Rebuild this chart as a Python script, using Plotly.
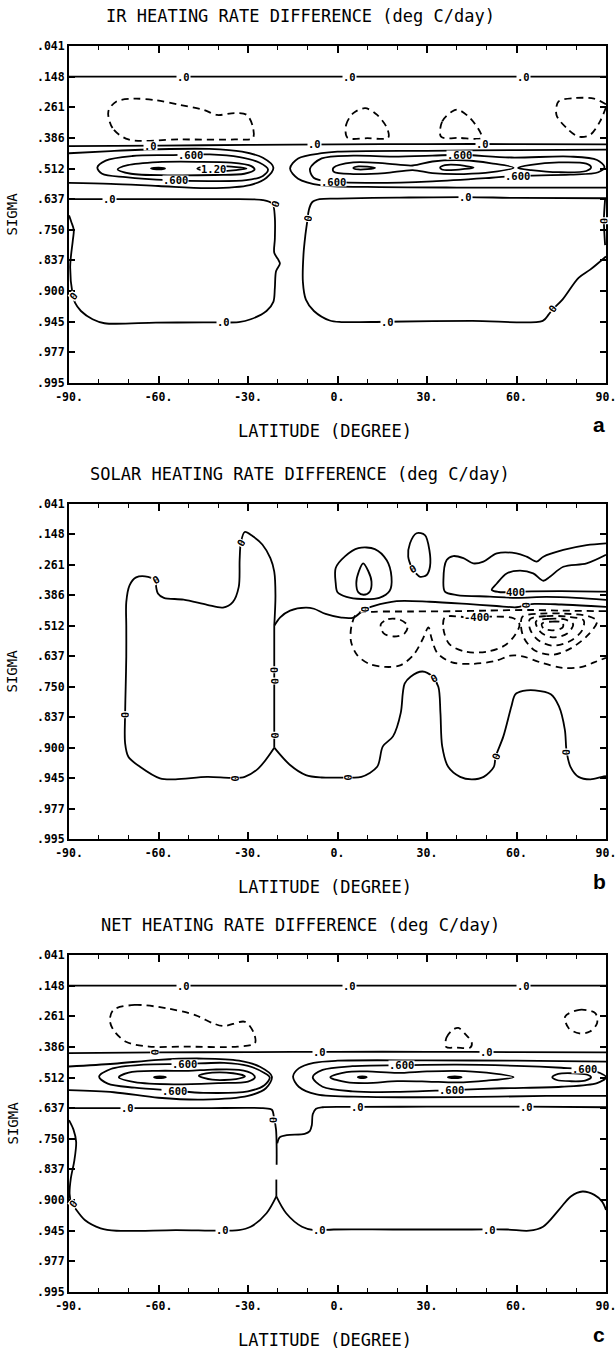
import plotly.graph_objects as go

W, H = 616, 1349
MONO = "DejaVu Sans Mono"

# ---------------- axes / text ----------------
SIGMA_LABELS = [".041", ".148", ".261", ".386", ".512", ".637", ".750",
                ".837", ".900", ".945", ".977", ".995"]
LAT_MAJOR = [-90, -60, -30, 0, 30, 60, 90]
LAT_MAJOR_TEXT = ["-90.", "-60.", "-30.", "0.", "30.", "60.", "90."]
LAT_MINOR = [-80, -70, -50, -40, -20, -10, 10, 20, 40, 50, 70, 80]
TITLES = ["IR HEATING RATE DIFFERENCE (deg C/day)",
          "SOLAR HEATING RATE DIFFERENCE (deg C/day)",
          "NET HEATING RATE DIFFERENCE (deg C/day)"]
LETTERS = ["a", "b", "c"]
X_TITLE = "LATITUDE (DEGREE)"
Y_TITLE = "SIGMA"

# ---------------- panel a : IR  (lat, sigma-level index) ----------------
IR_ZERO_148 = [(-90, 1.0), (0, 1.0), (90, 1.0)]
IR_ZERO_386 = [(-90, 3.27), (-60, 3.25), (-30, 3.23), (0, 3.21), (30, 3.2), (60, 3.2), (90, 3.21)]
IR_P03_L = [(-90, 3.5), (-76, 3.43), (-60, 3.37), (-43, 3.36), (-32, 3.45), (-25, 3.65), (-21.5, 3.97),
            (-23.8, 4.3), (-29.4, 4.54), (-43, 4.64), (-60, 4.57), (-76, 4.5), (-90, 4.47)]
IR_P06_L = [(-80.5, 3.97), (-77.7, 3.74), (-68.8, 3.59), (-56.5, 3.56), (-42.8, 3.54), (-32.8, 3.63),
            (-26.1, 3.81), (-23.3, 4.03), (-25.0, 4.24), (-30.6, 4.38), (-42.8, 4.41), (-56.5, 4.38),
            (-71.0, 4.28), (-78.9, 4.17), (-80.5, 3.97)]
IR_P09_L = [(-73.7, 4.03), (-70.3, 3.89), (-60.2, 3.79), (-46.8, 3.78), (-35.6, 3.81), (-28.9, 3.92),
            (-27.8, 4.03), (-31.2, 4.17), (-41.2, 4.21), (-56.9, 4.22), (-69.2, 4.17), (-73.7, 4.03)]
IR_P12_L1 = [(-62.5, 4.0), (-60, 3.97), (-57.8, 4.0), (-60, 4.03), (-62.5, 4.0)]
IR_P12_L2 = [(-47, 4.0), (-44, 3.93), (-38, 3.92), (-33, 3.96), (-30.5, 4.0), (-34, 4.05), (-40, 4.08),
             (-45, 4.06), (-47, 4.0)]
IR_P03_R = [(90, 3.38), (60, 3.4), (30, 3.42), (0, 3.45), (-5.3, 3.5), (-13.2, 3.67), (-15.9, 4.0),
            (-13.2, 4.33), (-5.3, 4.55), (10, 4.6), (40, 4.62), (70, 4.62), (90, 4.62)]
IR_P06_R = [(-9.2, 4.0), (-5.3, 3.67), (5.3, 3.58), (18.6, 3.61), (31.8, 3.58), (41, 3.55), (58.3, 3.64),
            (78, 3.61), (87, 3.72), (89.5, 3.95), (87.4, 4.12), (78, 4.2), (60, 4.24), (51.6, 4.3),
            (31.8, 4.42), (12, 4.47), (-1.3, 4.43), (-8, 4.3), (-9.2, 4.0)]
IR_P09_R1 = [(-1.3, 3.97), (5.3, 3.8), (15.9, 3.83), (25.2, 3.9), (31.8, 3.77), (42.4, 3.73), (51.6, 3.83),
             (59, 3.97), (51.6, 4.12), (42.4, 4.18), (31.8, 4.15), (25.2, 4.05), (15.9, 4.15), (5.3, 4.18),
             (-1.3, 4.1), (-1.3, 3.97)]
IR_P09_R2 = [(60.5, 3.98), (64.9, 3.88), (74.2, 3.8), (83.4, 3.84), (85, 3.96), (83.4, 4.08), (74.2, 4.12),
             (64.9, 4.05), (60.5, 3.98)]
IR_P12_R1 = [(5.3, 3.98), (7, 3.93), (10, 3.94), (12.6, 3.98), (10, 4.02), (7, 4.03), (5.3, 3.98)]
IR_P12_R2 = [(34.4, 3.97), (36, 3.89), (40, 3.88), (43, 3.92), (45.6, 3.97), (42, 4.02), (38, 4.05),
             (35, 4.03), (34.4, 3.97)]
IR_ZERO_LOW_L = [(-90, 5.0), (-76, 5.0), (-60, 5.0), (-40, 5.0), (-25, 5.03), (-21.8, 5.15), (-21.0, 5.6),
                 (-21.0, 6.3), (-21.2, 6.75), (-20.0, 6.95), (-19.3, 7.1), (-20.6, 7.35), (-21.0, 7.9),
                 (-21.5, 8.35), (-23.8, 8.65), (-29.1, 8.92), (-33.1, 9.01), (-45, 9.02), (-60.9, 9.03),
                 (-78.1, 9.05), (-82.1, 8.92), (-86, 8.65), (-88, 8.38), (-88.8, 8.1), (-89.6, 7.2),
                 (-88.7, 6.33), (-88.4, 6.0), (-89.2, 5.75), (-90, 5.53)]
IR_ZERO_LOW_R = [(90, 4.97), (60, 4.96), (43, 4.93), (20, 4.95), (0, 4.98), (-6, 5.0), (-8.5, 5.1),
                 (-9.6, 5.35), (-10.1, 5.7), (-10.8, 6.2), (-11.4, 6.8), (-11.6, 7.7), (-10.6, 8.28),
                 (-7.9, 8.65), (-2.6, 8.96), (1.3, 9.01), (16.6, 9.0), (45, 8.97), (68.8, 8.97),
                 (70.8, 8.76), (72.1, 8.6), (75.4, 8.28), (80.8, 7.57), (84.7, 7.3), (90, 6.87)]
IR_ZERO_EDGE = [(89.7, 5.0), (89.3, 5.7), (89.7, 6.5)]
IR_N1 = [(-70.1, 3.05), (-75.4, 2.68), (-76.8, 2.13), (-74.1, 1.81), (-68.2, 1.72), (-60.9, 1.77),
         (-52.9, 1.92), (-45.0, 2.08), (-40.4, 2.25), (-34.4, 2.19), (-30.4, 2.25), (-28.4, 2.63),
         (-28.4, 3.01), (-34.4, 3.05), (-52.9, 3.05), (-70.1, 3.05)]
IR_N2 = [(3.3, 2.99), (2.9, 2.57), (5.3, 2.19), (9.3, 2.03), (13.3, 2.25), (16.6, 2.68), (17.0, 2.99),
         (10, 3.01), (3.3, 2.99)]
IR_N3 = [(34.7, 2.96), (35.1, 2.46), (38.4, 2.14), (40.4, 2.08), (44.4, 2.35), (47.7, 2.79), (48.3, 3.0),
         (41, 3.0), (34.7, 2.96)]
IR_N4 = [(90, 2.0), (88, 2.46), (84.7, 2.9), (80.8, 2.96), (76.8, 2.68), (73.4, 2.25), (74.1, 1.81),
         (79.4, 1.70), (86, 1.72), (90, 1.9)]
IR_LABELS = [(-51.6, 1.0, ".0", 0), (4, 1.0, ".0", 0), (62.2, 1.0, ".0", 0),
             (-62.6, 3.25, ".0", 0), (-7.7, 3.21, ".0", 0), (48.6, 3.2, ".0", 0),
             (-49.4, 3.55, ".600", 0), (-54.4, 4.39, ".600", 0), (41, 3.55, ".600", 0),
             (-1.3, 4.43, ".600", 0), (60.3, 4.24, ".600", 0), (-41.6, 4.0, "1.20", 0),
             (-76.3, 5.0, ".0", 0), (43, 4.93, ".0", 0), (-38.2, 9.02, ".0", 0), (16.6, 9.0, ".0", 0),
             (-20.9, 5.15, "0", -70), (-10.0, 5.64, "0", -80), (-88.6, 8.15, "0", -50),
             (72.1, 8.6, "0", -55), (89.3, 5.7, "0", 90)]

# ---------------- panel b : SOLAR ----------------
SOL_ZERO_LA = [(-61, 2.5), (-60.2, 2.94), (-58.2, 3.08), (-51.6, 3.14), (-43.7, 3.31), (-38.4, 3.4),
               (-35.1, 3.22), (-33.1, 2.72), (-32.8, 1.83), (-32.4, 1.28), (-31.1, 0.92), (-28.5, 1.05),
               (-25.2, 1.33), (-22.5, 1.78), (-21.2, 2.22), (-20.8, 3.0), (-21.2, 4.0)]
SOL_ZERO_STEM = [(-21.2, 4.0), (-21.2, 5.0), (-21.2, 6.0), (-21.2, 7.0), (-21.2, 8.0)]
SOL_ZERO_LB = [(-21.2, 8.0), (-26.5, 8.68), (-31.1, 8.96), (-35.7, 8.99), (-43.7, 8.96), (-54.3, 9.04),
               (-59.5, 9.01), (-66.2, 8.63), (-70.1, 8.3), (-71.2, 7.85), (-71.2, 6.92), (-71, 6.0),
               (-70.8, 5.0), (-70.8, 4.0), (-70.8, 3.22), (-69.7, 2.67), (-67.5, 2.41), (-63.5, 2.39),
               (-61, 2.5)]
SOL_ZERO_R = [(-21.2, 8.0), (-15.9, 8.57), (-10.6, 8.9), (-5.3, 8.98), (3.3, 8.98), (8.0, 8.96),
              (13.3, 8.63), (15.2, 7.96), (18.6, 7.63), (21.2, 6.86), (21.9, 6.2), (22.5, 5.9),
              (24.5, 5.67), (28.5, 5.5), (31.8, 5.67), (33.8, 6.0), (34.5, 6.86), (35.1, 7.96),
              (37.1, 8.63), (41.1, 8.96), (45, 9.04), (49, 8.96), (52.4, 8.63), (53, 8.3), (55.6, 7.63),
              (58.3, 6.64), (59.6, 6.25), (62.2, 6.14), (66.2, 6.12), (71.5, 6.25), (74.2, 6.64),
              (76.2, 7.41), (76.8, 8.13), (78.1, 8.63), (80.8, 8.96), (84.8, 9.04), (88.7, 8.96), (90, 8.94)]
SOL_ZERO_MID = [(-21.2, 4.0), (-19.2, 3.72), (-15.9, 3.5), (-10.6, 3.4), (-7.9, 3.44), (-4, 3.61),
                (1.3, 3.73), (5.3, 3.73), (9.2, 3.45), (12, 3.35), (19.8, 3.19), (30.9, 3.21),
                (44.4, 3.29), (53.3, 3.35), (60, 3.39), (63, 3.33), (66, 3.28), (75, 3.3), (85, 3.35),
                (90, 3.38)]
SOL_P_C1 = [(-0.6, 2.6), (-0.6, 2.1), (2.5, 1.72), (7, 1.45), (12.5, 1.48), (16.5, 1.85), (18.1, 2.4),
            (17.5, 2.85), (14, 3.08), (8, 3.12), (3, 3.05), (0, 2.9), (-0.6, 2.6)]
SOL_P_C2 = [(8.6, 1.95), (7.2, 2.2), (6.3, 2.6), (7, 2.9), (8.8, 2.98), (10.8, 2.88), (11.4, 2.55),
            (10.3, 2.2), (8.6, 1.95)]
SOL_P_C3 = [(25.0, 2.12), (23.7, 1.73), (24.3, 1.29), (26.5, 0.96), (29.3, 1.02), (30.8, 1.51),
            (31.0, 2.06), (29.9, 2.33), (27.7, 2.39), (26.3, 2.28)]
SOL_P_02 = [(90, 1.29), (83.5, 1.35), (75.7, 1.51), (69, 1.73), (66.8, 1.89), (63.4, 1.73), (60, 1.62),
            (53.4, 1.62), (48.9, 1.89), (45.5, 1.95), (42.2, 1.78), (38.8, 1.71), (36.6, 1.84),
            (35.5, 2.5), (36, 2.88), (40, 2.99), (51.1, 3.04), (60, 3.08), (70, 3.05), (80, 3.08), (90, 3.15)]
SOL_P_04 = [(90, 1.67), (83.5, 1.95), (75.7, 2.06), (71.2, 2.39), (69, 2.52), (65.6, 2.28), (61.2, 2.19),
            (56.7, 2.28), (53.4, 2.61), (51.7, 2.82), (54, 2.89), (59.5, 2.89), (65, 2.87), (75, 2.86),
            (90, 2.88)]
SOL_N1 = [(90, 3.52), (75, 3.5), (64.5, 3.48), (50, 3.5), (40, 3.52), (25, 3.53), (12, 3.54), (6.5, 3.6),
          (4.7, 4.0), (4.5, 4.5), (6.5, 4.95), (10.6, 5.25), (16, 5.35), (21, 5.3), (25.5, 4.95),
          (28.5, 4.45), (30.5, 4.05), (31.5, 4.4), (33.5, 4.9), (38.4, 5.2), (45, 5.25), (53, 5.15),
          (58, 4.98), (62, 5.0), (68, 5.2), (75.5, 5.38), (82, 5.35), (86, 5.2), (90, 5.05)]
SOL_N2 = [(14.5, 3.95), (17, 3.78), (21, 3.8), (23.5, 4.0), (22.5, 4.25), (19, 4.35), (15.5, 4.25),
          (14.5, 3.95)]
SOL_N3 = [(36, 3.72), (35.5, 4.1), (37.5, 4.6), (43, 4.85), (50, 4.85), (56, 4.65), (59.5, 4.3),
          (61, 3.95), (59, 3.75), (52, 3.7), (44, 3.72), (36, 3.72)]
SOL_N4 = [(62, 3.7), (68, 3.6), (76, 3.6), (84, 3.68), (87, 3.85), (84, 4.3), (78, 4.75), (72, 4.95),
          (66, 4.8), (62.5, 4.4), (61.5, 4.0), (62, 3.7)]
SOL_N5 = [(64.5, 3.78), (70, 3.68), (77, 3.7), (82.5, 3.82), (82, 4.15), (78, 4.5), (72, 4.65), (67, 4.45),
          (64.5, 4.1), (64.5, 3.78)]
SOL_N6 = [(66.5, 3.86), (71, 3.77), (76.5, 3.8), (79, 3.95), (77, 4.25), (72, 4.38), (68, 4.2), (66.5, 3.86)]
SOL_N7 = [(68.5, 3.93), (72, 3.86), (75.5, 3.9), (75.5, 4.05), (72, 4.15), (69, 4.08), (68.5, 3.93)]
SOL_LABELS = [(-61, 2.5, "0", -30), (-32.4, 1.28, "0", -60), (-21.2, 5.45, "0", 90), (-21.2, 5.82, "0", 90),
              (-21.2, 7.6, "0", 90), (-71.2, 6.92, "0", 90), (-34.4, 9.0, "0", 90), (3.3, 8.98, "0", 90),
              (32.5, 5.72, "0", -30), (53, 8.3, "0", -70), (76.8, 8.13, "0", 90), (9.2, 3.45, "0", 90),
              (63, 3.33, "0", 90), (25.2, 2.15, "0", -30), (59.5, 2.89, "400", 0), (46.6, 3.72, "-400", 0)]

# ---------------- panel c : NET ----------------
NET_ZERO_148 = [(-90, 1.0), (0, 1.0), (90, 1.0)]
NET_ZERO_386 = [(-90, 3.2), (-60, 3.18), (-30, 3.17), (0, 3.16), (30, 3.16), (60, 3.17), (90, 3.18)]
NET_P03_L = [(-90, 3.64), (-75, 3.55), (-60, 3.42), (-45, 3.38), (-33, 3.45), (-26, 3.65), (-22, 3.97),
             (-24, 4.35), (-30, 4.6), (-45, 4.72), (-60, 4.66), (-75, 4.48), (-90, 4.41)]
NET_P06_L = [(-79.9, 3.97), (-76, 3.72), (-65, 3.58), (-51.3, 3.56), (-38, 3.52), (-30, 3.62),
             (-24.5, 3.85), (-22.7, 4.0), (-24.5, 4.25), (-30, 4.45), (-45, 4.5), (-54.8, 4.43),
             (-68, 4.33), (-77, 4.2), (-79.9, 3.97)]
NET_P09_L = [(-73.3, 3.99), (-70, 3.84), (-60, 3.78), (-50, 3.78), (-42, 3.74), (-33, 3.75), (-28.5, 3.88),
             (-27.7, 4.0), (-30, 4.13), (-40, 4.18), (-55, 4.22), (-68, 4.15), (-73.3, 3.99)]
NET_P12_L1 = [(-61.5, 3.99), (-59.6, 3.96), (-57.5, 3.99), (-59.6, 4.02), (-61.5, 3.99)]
NET_P12_L2 = [(-46.5, 3.94), (-42, 3.84), (-35, 3.86), (-31, 3.96), (-34, 4.05), (-42, 4.07), (-46.5, 3.94)]
NET_P03_R = [(90, 3.48), (60, 3.45), (30, 3.44), (0, 3.45), (-8, 3.52), (-13, 3.7), (-14.9, 3.97),
             (-13, 4.3), (-7, 4.55), (10, 4.63), (40, 4.64), (70, 4.6), (90, 4.6)]
NET_P06_R = [(-8.3, 3.99), (-5, 3.75), (5, 3.63), (21.5, 3.6), (40, 3.58), (60, 3.62), (75, 3.68),
             (82.8, 3.73), (88, 3.85), (90, 3.99), (87, 4.18), (75, 4.3), (55, 4.35), (38.1, 4.41),
             (20, 4.47), (5, 4.45), (-5, 4.3), (-8.3, 3.99)]
NET_P09_R1 = [(-2.4, 3.99), (3, 3.82), (10, 3.8), (20, 3.85), (30, 3.8), (40, 3.78), (50, 3.84), (59, 3.99),
              (50, 4.1), (40, 4.16), (30, 4.13), (20, 4.12), (10, 4.18), (3, 4.15), (-2.4, 3.99)]
NET_P09_R2 = [(72, 3.99), (74, 3.88), (79, 3.86), (83.4, 3.9), (85, 3.99), (83, 4.1), (78, 4.12),
              (73.5, 4.08), (72, 3.99)]
NET_P12_R1 = [(6.8, 3.99), (8.3, 3.96), (9.8, 3.99), (8.3, 4.02), (6.8, 3.99)]
NET_P12_R2 = [(37, 3.99), (39.3, 3.96), (41.6, 3.99), (39.3, 4.02), (37, 3.99)]
NET_ZERO_LOW_L = [(-90, 5.0), (-70, 5.0), (-45, 5.0), (-25, 5.0), (-22, 5.05), (-21.3, 5.3), (-20.6, 5.7),
                  (-20.4, 6.3), (-20.4, 6.85)]
NET_ZERO_LOW_R = [(90, 4.97), (63.2, 4.95), (30, 4.95), (6.6, 4.96), (-5, 4.97), (-7.2, 5.02), (-8.3, 5.2),
                  (-8.6, 5.55), (-9.3, 5.75), (-11, 5.84), (-17, 5.88), (-19.4, 5.95), (-20.2, 6.15)]
NET_ZERO_STEM = [(-20.5, 7.33), (-20.5, 7.88)]
NET_ZERO_BOT_L = [(-20.5, 7.88), (-23.8, 8.43), (-29.1, 8.87), (-33.1, 8.98), (-54.3, 8.98), (-74.1, 9.0),
                  (-79.4, 8.92), (-84.7, 8.65), (-88, 8.26), (-89.2, 8.1), (-89.8, 7.8), (-89.4, 7.3),
                  (-88.2, 6.7), (-87.6, 6.1), (-88.5, 5.7), (-90, 5.39)]
NET_ZERO_BOT_R = [(-20.5, 7.88), (-17.2, 8.43), (-11.9, 8.87), (-7.9, 8.98), (-1.3, 8.96), (18.6, 8.96),
                  (45, 8.96), (56.9, 8.96), (64.2, 9.0), (68.9, 8.87), (74.2, 8.32), (78.2, 7.88),
                  (82.1, 7.72), (86.1, 7.83), (88.7, 8.05), (90, 8.32)]
NET_N1 = [(-75.1, 1.79), (-68, 1.63), (-57.2, 1.74), (-47.7, 1.96), (-41.7, 2.23), (-38.1, 2.32),
          (-31, 2.18), (-28, 2.56), (-27.7, 2.88), (-33.4, 2.99), (-51.3, 2.99), (-63.2, 2.99),
          (-70.9, 2.83), (-75.1, 2.45), (-76.3, 2.12), (-75.1, 1.79)]
NET_N2 = [(36.4, 3.0), (36.5, 2.7), (38.5, 2.45), (40.5, 2.38), (43, 2.6), (45, 2.85), (44.5, 3.02),
          (40, 3.02), (36.4, 3.0)]
NET_N3 = [(76.3, 2.01), (81.1, 1.79), (86.4, 1.9), (87, 2.23), (84.6, 2.5), (81.1, 2.56), (77.5, 2.39),
          (76.3, 2.01)]
NET_LABELS = [(-51.6, 1.0, ".0", 0), (4, 1.0, ".0", 0), (62.2, 1.0, ".0", 0),
              (-61.4, 3.18, "0", 90), (-6, 3.16, ".0", 0), (50.1, 3.16, ".0", 0),
              (-51.3, 3.56, ".600", 0), (-54.8, 4.43, ".600", 0), (21.5, 3.6, ".600", 0),
              (38.1, 4.41, ".600", 0), (82.8, 3.73, ".600", 0),
              (-70.3, 5.0, ".0", 0), (6.6, 4.96, ".0", 0), (63.2, 4.95, ".0", 0),
              (-21.5, 5.39, "0", 90), (-38.4, 8.98, ".0", 0), (-5.9, 8.98, ".0", 0), (51, 8.96, ".0", 0),
              (-88.7, 8.12, "0", -50)]

PANELS = [
    dict(solid=[IR_ZERO_148, IR_ZERO_386, IR_P03_L, IR_P06_L, IR_P09_L, IR_P12_L1, IR_P12_L2,
                IR_P03_R, IR_P06_R, IR_P09_R1, IR_P09_R2, IR_P12_R1, IR_P12_R2,
                IR_ZERO_LOW_L, IR_ZERO_LOW_R, IR_ZERO_EDGE],
         dashed=[IR_N1, IR_N2, IR_N3, IR_N4], labels=IR_LABELS),
    dict(solid=[SOL_ZERO_LA, SOL_ZERO_STEM, SOL_ZERO_LB, SOL_ZERO_R, SOL_ZERO_MID,
                SOL_P_C1, SOL_P_C2, SOL_P_C3, SOL_P_02, SOL_P_04],
         dashed=[SOL_N1, SOL_N2, SOL_N3, SOL_N4, SOL_N5, SOL_N6, SOL_N7], labels=SOL_LABELS),
    dict(solid=[NET_ZERO_148, NET_ZERO_386, NET_P03_L, NET_P06_L, NET_P09_L, NET_P12_L1, NET_P12_L2,
                NET_P03_R, NET_P06_R, NET_P09_R1, NET_P09_R2, NET_P12_R1, NET_P12_R2,
                NET_ZERO_LOW_L, NET_ZERO_LOW_R, NET_ZERO_STEM, NET_ZERO_BOT_L, NET_ZERO_BOT_R],
         dashed=[NET_N1, NET_N2, NET_N3], labels=NET_LABELS),
]

# ---------------- layout geometry (pixels) ----------------
PLOT_LEFT, PLOT_RIGHT = 69, 606
PANEL_TOPBOT = [(46, 383), (504, 839), (955, 1292)]

fig = go.Figure()
annotations = []

def px_x(p):
    return p / W

def px_y(p):
    return 1 - p / H

for k, panel in enumerate(PANELS):
    sx = "" if k == 0 else str(k + 1)
    xname, yname = "x" + sx, "y" + sx
    for pts, dashed in [(p, False) for p in panel["solid"]] + [(p, True) for p in panel["dashed"]]:
        fig.add_trace(go.Scatter(
            x=[p[0] for p in pts], y=[p[1] for p in pts], xaxis=xname, yaxis=yname,
            mode="lines", hoverinfo="skip", showlegend=False,
            line=dict(color="black", width=1.8, shape="spline", smoothing=0.9,
                      dash="7px,5px" if dashed else "solid")))
    for lat, lev, txt, ang in panel["labels"]:
        annotations.append(dict(
            x=lat, y=lev, xref=xname, yref=yname, text=txt, showarrow=False,
            textangle=ang, bgcolor="white", borderpad=0, height=8,
            font=dict(family=MONO, size=10.5, color="black", weight="bold")))

    top, bot = PANEL_TOPBOT[k]
    axfont = dict(family=MONO, size=11.5, color="black", weight="bold")
    fig.update_layout(**{
        "xaxis" + sx: dict(domain=[px_x(PLOT_LEFT), px_x(PLOT_RIGHT)], range=[-90, 90], anchor=yname,
                           tickmode="array", tickvals=LAT_MAJOR, ticktext=LAT_MAJOR_TEXT,
                           ticks="inside", ticklen=7, tickwidth=1.5, tickcolor="black",
                           minor=dict(tickmode="array", tickvals=LAT_MINOR, ticks="inside", ticklen=4,
                                      tickwidth=1.2, tickcolor="black", showgrid=False),
                           showline=True, linecolor="black", linewidth=2, mirror="ticks",
                           showgrid=False, zeroline=False, tickfont=axfont, ticklabelstandoff=2,
                           ticklabeloverflow="allow", automargin=False, fixedrange=True),
        "yaxis" + sx: dict(domain=[px_y(bot), px_y(top)], range=[11, 0], anchor=xname,
                           tickmode="array", tickvals=list(range(len(SIGMA_LABELS))),
                           ticktext=SIGMA_LABELS, ticks="inside", ticklen=6, tickwidth=1.5,
                           tickcolor="black", showline=True, linecolor="black", linewidth=2,
                           mirror="ticks", showgrid=False, zeroline=False, tickfont=axfont,
                           ticklabelstandoff=0, automargin=False, fixedrange=True),
    })
    # titles and axis titles
    annotations.append(dict(x=px_x(300), y=px_y(top - 30), xref="paper", yref="paper", text=TITLES[k],
                            showarrow=False, xanchor="center", yanchor="middle",
                            font=dict(family=MONO, size=17, color="black")))
    annotations.append(dict(x=px_x(12), y=px_y((top + bot) / 2), xref="paper", yref="paper", text=Y_TITLE,
                            showarrow=False, textangle=-90, xanchor="center", yanchor="middle",
                            font=dict(family=MONO, size=14, color="black")))
    annotations.append(dict(x=px_x(325), y=px_y(bot + 48), xref="paper", yref="paper", text=X_TITLE,
                            showarrow=False, xanchor="center", yanchor="middle",
                            font=dict(family=MONO, size=17, color="black")))
    annotations.append(dict(x=px_x(599), y=px_y(bot + 42), xref="paper", yref="paper", text=LETTERS[k],
                            showarrow=False, xanchor="center", yanchor="middle",
                            font=dict(family="Liberation Sans", size=21, color="black", weight="bold")))

fig.update_layout(width=W, height=H, margin=dict(l=0, r=0, t=0, b=0),
                  paper_bgcolor="white", plot_bgcolor="white", annotations=annotations,
                  showlegend=False)

fig.write_html("out.html", config={"displayModeBar": False})
